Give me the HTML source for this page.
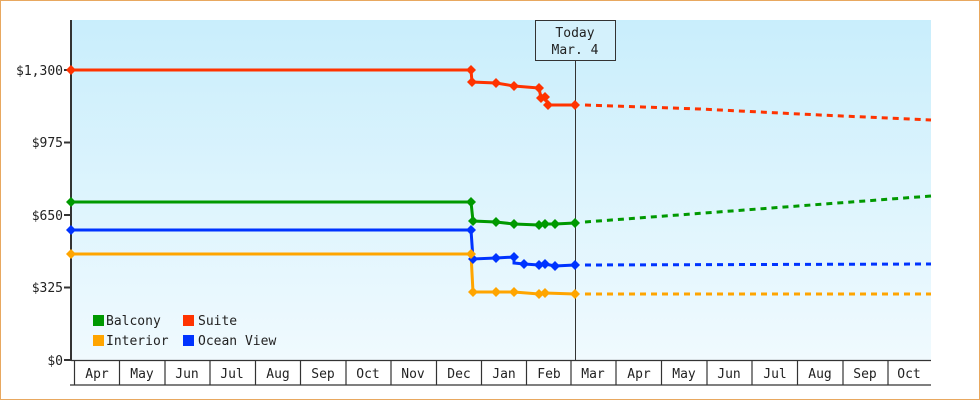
<!DOCTYPE html>
<html><head><meta charset="utf-8"><style>
html,body{margin:0;padding:0;background:#fff}
svg{display:block}
text{font-family:"DejaVu Sans Mono","Liberation Mono",monospace;font-size:13px;fill:#222}
</style></head><body>
<svg width="980" height="400" viewBox="0 0 980 400" xmlns="http://www.w3.org/2000/svg">
<defs><linearGradient id="bg" x1="0" y1="0" x2="0" y2="1"><stop offset="0" stop-color="#c9eefc"/><stop offset="1" stop-color="#f0fafe"/></linearGradient></defs>
<rect x="0.5" y="0.5" width="979" height="399" fill="#fff" stroke="#e8a860"/>
<rect x="71" y="20" width="860" height="340" fill="url(#bg)"/>
<!-- y axis -->
<line x1="71" y1="20" x2="71" y2="361" stroke="#333" stroke-width="2"/>
<g stroke="#333" stroke-width="2">
<line x1="64" y1="70" x2="71" y2="70"/><line x1="64" y1="142.5" x2="71" y2="142.5"/><line x1="64" y1="215" x2="71" y2="215"/><line x1="64" y1="287.5" x2="71" y2="287.5"/><line x1="64" y1="360" x2="71" y2="360"/>
</g>
<g text-anchor="end">
<text x="63" y="75">$1,300</text><text x="63" y="147">$975</text><text x="63" y="220">$650</text><text x="63" y="292">$325</text><text x="63" y="365">$0</text>
</g>
<!-- x axis -->
<g stroke="#333" stroke-width="1.2" fill="none">
<line x1="71" y1="360.5" x2="931" y2="360.5"/>
<line x1="70" y1="385" x2="931" y2="385"/>
<line x1="74.5" y1="360" x2="74.5" y2="385"/><line x1="119.5" y1="360" x2="119.5" y2="385"/><line x1="165" y1="360" x2="165" y2="385"/><line x1="210" y1="360" x2="210" y2="385"/><line x1="255.5" y1="360" x2="255.5" y2="385"/><line x1="300.5" y1="360" x2="300.5" y2="385"/><line x1="346" y1="360" x2="346" y2="385"/><line x1="391" y1="360" x2="391" y2="385"/><line x1="436.5" y1="360" x2="436.5" y2="385"/><line x1="481.5" y1="360" x2="481.5" y2="385"/><line x1="526.5" y1="360" x2="526.5" y2="385"/><line x1="571" y1="360" x2="571" y2="385"/><line x1="616" y1="360" x2="616" y2="385"/><line x1="661.5" y1="360" x2="661.5" y2="385"/><line x1="707" y1="360" x2="707" y2="385"/><line x1="752" y1="360" x2="752" y2="385"/><line x1="797.5" y1="360" x2="797.5" y2="385"/><line x1="843" y1="360" x2="843" y2="385"/><line x1="888" y1="360" x2="888" y2="385"/>
</g>
<g text-anchor="middle">
<text x="97" y="378">Apr</text><text x="142" y="378">May</text><text x="187" y="378">Jun</text><text x="232" y="378">Jul</text><text x="278" y="378">Aug</text><text x="323" y="378">Sep</text><text x="368" y="378">Oct</text><text x="413" y="378">Nov</text><text x="459" y="378">Dec</text><text x="504" y="378">Jan</text><text x="549" y="378">Feb</text><text x="593" y="378">Mar</text><text x="639" y="378">Apr</text><text x="684" y="378">May</text><text x="729" y="378">Jun</text><text x="775" y="378">Jul</text><text x="820" y="378">Aug</text><text x="865" y="378">Sep</text><text x="909" y="378">Oct</text>
</g>
<!-- today -->
<line x1="575.5" y1="60" x2="575.5" y2="360" stroke="#333" stroke-width="1"/>
<rect x="535.5" y="20.5" width="80" height="40" fill="#d4f1fc" stroke="#333"/>
<text x="575" y="37" text-anchor="middle">Today</text>
<text x="575" y="54" text-anchor="middle">Mar. 4</text>
<!-- series -->
<g fill="none" stroke-width="3">
<polyline stroke="#ff3300" points="71,70 471,70 472,82 496,83 514,86 539,88 541,98 545,97 548,105 575,105"/>
<polyline stroke="#ff3300" stroke-dasharray="6,5" points="585,105 700,109 820,115 931,120"/>
<polyline stroke="#009900" points="71,202 471,202 473,221 496,222 514,224 539,225 545,224 555,224 575,223"/>
<polyline stroke="#009900" stroke-dasharray="6,5" points="585,222 931,196"/>
<polyline stroke="#0033ff" points="71,230 471,230 473,259 496,258 514,257 514,263 524,264 539,265 545,264 555,266 575,265"/>
<polyline stroke="#0033ff" stroke-dasharray="6,5" points="585,265 931,264"/>
<polyline stroke="#ffa500" points="71,254 471,254 473,292 496,292 514,292 539,294 545,293 575,294"/>
<polyline stroke="#ffa500" stroke-dasharray="6,5" points="585,294 931,294"/>
</g>
<g>
<g fill="#ff3300"><path d="M71,65l5,5-5,5-5-5z"/><path d="M471,65l5,5-5,5-5-5z"/><path d="M472,77l5,5-5,5-5-5z"/><path d="M496,78l5,5-5,5-5-5z"/><path d="M514,81l5,5-5,5-5-5z"/><path d="M539,83l5,5-5,5-5-5z"/><path d="M541,93l5,5-5,5-5-5z"/><path d="M545,92l5,5-5,5-5-5z"/><path d="M548,100l5,5-5,5-5-5z"/><path d="M575,100l5,5-5,5-5-5z"/></g>
<g fill="#009900"><path d="M71,197l5,5-5,5-5-5z"/><path d="M471,197l5,5-5,5-5-5z"/><path d="M473,216l5,5-5,5-5-5z"/><path d="M496,217l5,5-5,5-5-5z"/><path d="M514,219l5,5-5,5-5-5z"/><path d="M539,220l5,5-5,5-5-5z"/><path d="M545,219l5,5-5,5-5-5z"/><path d="M555,219l5,5-5,5-5-5z"/><path d="M575,218l5,5-5,5-5-5z"/></g>
<g fill="#0033ff"><path d="M71,225l5,5-5,5-5-5z"/><path d="M471,225l5,5-5,5-5-5z"/><path d="M473,254l5,5-5,5-5-5z"/><path d="M496,253l5,5-5,5-5-5z"/><path d="M514,252l5,5-5,5-5-5z"/><path d="M524,259l5,5-5,5-5-5z"/><path d="M539,260l5,5-5,5-5-5z"/><path d="M545,259l5,5-5,5-5-5z"/><path d="M555,261l5,5-5,5-5-5z"/><path d="M575,260l5,5-5,5-5-5z"/></g>
<g fill="#ffa500"><path d="M71,249l5,5-5,5-5-5z"/><path d="M471,249l5,5-5,5-5-5z"/><path d="M473,287l5,5-5,5-5-5z"/><path d="M496,287l5,5-5,5-5-5z"/><path d="M514,287l5,5-5,5-5-5z"/><path d="M539,289l5,5-5,5-5-5z"/><path d="M545,288l5,5-5,5-5-5z"/><path d="M575,289l5,5-5,5-5-5z"/></g>
</g>
<!-- legend -->
<rect x="93" y="315" width="11" height="11" fill="#009900"/><text x="106" y="325">Balcony</text>
<rect x="183" y="315" width="11" height="11" fill="#ff3300"/><text x="198" y="325">Suite</text>
<rect x="93" y="335" width="11" height="11" fill="#ffa500"/><text x="106" y="345">Interior</text>
<rect x="183" y="335" width="11" height="11" fill="#0033ff"/><text x="198" y="345">Ocean View</text>
</svg>
</body></html>
